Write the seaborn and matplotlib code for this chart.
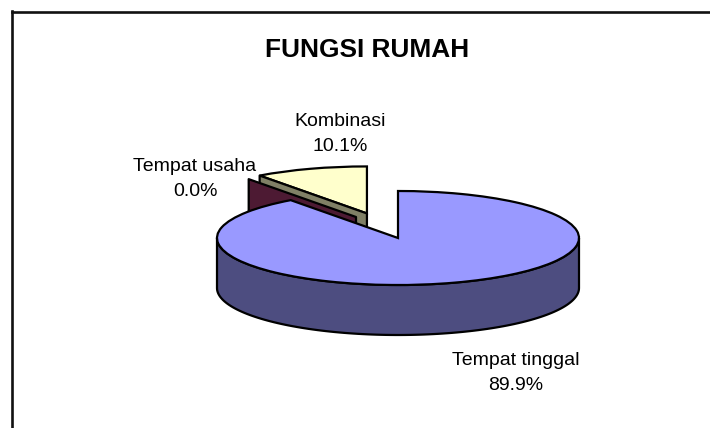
import numpy as np
import matplotlib
matplotlib.use("Agg")
import matplotlib.pyplot as plt
from matplotlib.lines import Line2D
import seaborn as sns

categories = ["Tempat tinggal", "Tempat usaha", "Kombinasi"]
values = [89.9, 0.0, 10.1]
title = "FUNGSI RUMAH"
top_colors = ["#9999FF", "#993366", "#FFFFCC"]

W, H = 710, 428
CX, CY, RX, RY, DEPTH = 398, 238, 181, 47, 50
LW = 1.6

sns.set_theme(style="white")
plt.rcParams["font.family"] = ["Liberation Sans", "DejaVu Sans"]

fig = plt.figure(figsize=(W / 100, H / 100), dpi=100, facecolor="white")
ax = fig.add_axes([0, 0, 1, 1])

explode = [0, 0, 0.55]
wedges, _ = ax.pie(values, colors=top_colors, startangle=90, counterclock=False,
                   explode=explode, radius=1,
                   wedgeprops=dict(edgecolor="black", linewidth=LW))
ax.set_aspect("auto")
ax.set_xlim(-CX / RX, (W - CX) / RX)
ax.set_ylim((CY - H) / RY, CY / RY)
ax.axis("off")

depth = DEPTH / RY
side_colors = [tuple(c * 0.5 for c in sns.color_palette([t])[0]) for t in top_colors]

total = sum(values)
cut_main = 90 - 360 * values[0] / total           # where the first slice ends
cut = np.deg2rad(cut_main)
ux, uy = np.cos(cut), np.sin(cut)


def cut_face(ox, oy, color, z):
    ax.fill([ox, ox + ux, ox + ux, ox], [oy, oy + uy, oy + uy - depth, oy - depth],
            facecolor=color, edgecolor="black", linewidth=LW, zorder=z, joinstyle="round")


# cut face of the exploded last slice, then of the zero-size slice, then the main body
w3 = wedges[2]
cut_face(w3.center[0], w3.center[1], side_colors[2], 2)
w3.set_zorder(1)
usaha_offset = (-42 / RX, 21 / RY)
cut_face(usaha_offset[0], usaha_offset[1], side_colors[1], 3)
wedges[1].set_visible(False)

theta = np.deg2rad(np.linspace(180, 360, 120))
xs, ys = np.cos(theta), np.sin(theta)
ax.fill(np.r_[xs, xs[::-1]], np.r_[ys, ys[::-1] - depth],
        facecolor=side_colors[0], edgecolor="black", linewidth=LW, zorder=4)
wedges[0].set_zorder(5)


def px_text(x, y, s, **kw):
    fig.text(x / W, 1 - y / H, s, ha="center", va="center", color="black", **kw)


def label(i):
    return f"{categories[i]}\n{100 * values[i] / total:.1f}%"


px_text(367, 50, title, fontsize=18.9, fontweight="bold")
lab = dict(fontsize=14.0, linespacing=1.6)
px_text(516, 373, label(0), **lab)
px_text(195, 179, label(1), **lab)
px_text(340, 134, label(2), **lab)

fig.add_artist(Line2D([11.5 / W, 11.5 / W], [0, 1 - 11 / H], color="#111111", lw=1.9,
                      solid_capstyle="projecting"))
fig.add_artist(Line2D([11.5 / W, 1], [1 - 11.5 / H, 1 - 11.5 / H], color="#111111", lw=1.9,
                      solid_capstyle="projecting"))

fig.savefig("out.png", dpi=100, facecolor="white")
